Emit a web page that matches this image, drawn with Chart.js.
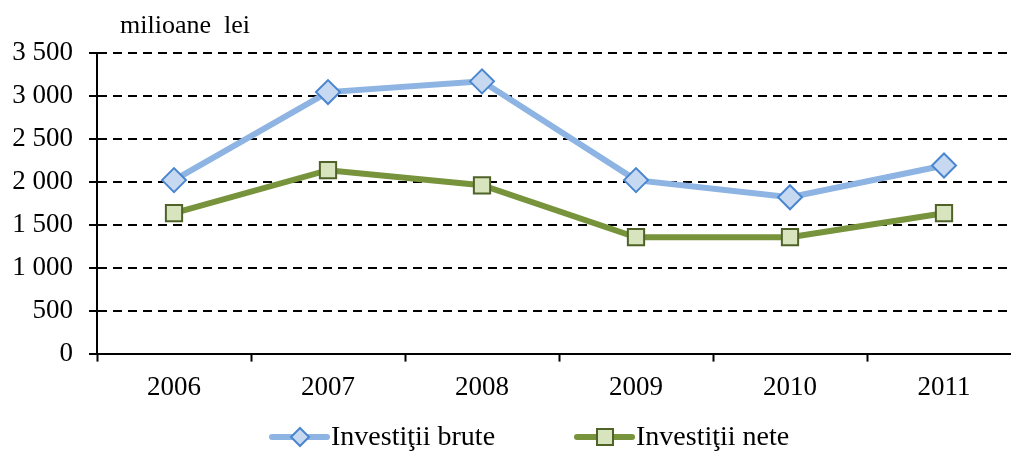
<!DOCTYPE html>
<html>
<head>
<meta charset="utf-8">
<script src="https://cdn.jsdelivr.net/npm/chart.js@4/dist/chart.umd.min.js"></script>
<style>
  html, body { margin: 0; padding: 0; background: #fff; overflow: hidden; }
  #wrap { width: 1035px; height: 453px; }
</style>
</head>
<body>
<div id="wrap"><canvas id="c"></canvas></div>
<script>
const years = ['2006', '2007', '2008', '2009', '2010', '2011'];
const brute = [2020, 3045, 3170, 2020, 1820, 2190];
const nete = [1635, 2135, 1960, 1355, 1355, 1635];
const unitLabel = 'milioane  lei';
const seriesNames = ['Investiţii brute', 'Investiţii nete'];

const FONT = '"Liberation Serif", "Times New Roman", serif';

function fmt(v) {
  return String(v).replace(/\B(?=(\d{3})+(?!\d))/g, ' ');
}

// unit label at top, line+marker legend at bottom
const extras = {
  id: 'extras',
  afterDraw(chart) {
    const ctx = chart.ctx;
    const a = chart.chartArea;
    ctx.save();
    ctx.fillStyle = '#000';
    ctx.font = '26px ' + FONT;
    ctx.textBaseline = 'middle';
    ctx.textAlign = 'left';
    ctx.fillText(unitLabel, a.left + 23, 26);

    ctx.font = '28px ' + FONT;
    const y = 437;
    let x = 272;
    chart.data.datasets.forEach((ds) => {
      const cx = x + 28;
      ctx.strokeStyle = ds.borderColor;
      ctx.lineWidth = ds.borderWidth;
      ctx.lineCap = 'round';
      ctx.beginPath();
      ctx.moveTo(x, y);
      ctx.lineTo(x + 55, y);
      ctx.stroke();
      ctx.fillStyle = ds.pointBackgroundColor;
      ctx.strokeStyle = ds.pointBorderColor;
      ctx.lineWidth = 2;
      ctx.beginPath();
      if (ds.pointStyle === 'rect') {
        ctx.rect(cx - 8, y - 8, 16, 16);
      } else {
        ctx.moveTo(cx, y - 9);
        ctx.lineTo(cx + 9, y);
        ctx.lineTo(cx, y + 9);
        ctx.lineTo(cx - 9, y);
        ctx.closePath();
      }
      ctx.fill();
      ctx.stroke();
      ctx.fillStyle = '#000';
      ctx.fillText(ds.label, x + 59, y + 1);
      x += 305;
    });
    ctx.restore();
  }
};

new Chart(document.getElementById('c'), {
  type: 'line',
  data: {
    labels: years,
    datasets: [
      {
        label: seriesNames[0],
        data: brute,
        borderColor: '#8DB4E2',
        borderWidth: 6,
        pointStyle: 'rectRot',
        pointRadius: 12,
        pointHoverRadius: 12,
        pointBackgroundColor: '#C6D9F1',
        pointBorderColor: '#4A86D0',
        pointBorderWidth: 2,
        tension: 0
      },
      {
        label: seriesNames[1],
        data: nete,
        borderColor: '#77933C',
        borderWidth: 6,
        pointStyle: 'rect',
        pointRadius: 11.5,
        pointHoverRadius: 11.5,
        pointBackgroundColor: '#D7E4BD',
        pointBorderColor: '#4F6228',
        pointBorderWidth: 2,
        tension: 0
      }
    ]
  },
  options: {
    responsive: true,
    maintainAspectRatio: false,
    animation: false,
    layout: { padding: { top: 53, right: 3, bottom: 39, left: 0 } },
    plugins: {
      legend: { display: false },
      tooltip: { enabled: false }
    },
    scales: {
      x: {
        offset: true,
        grid: {
          offset: true,
          drawOnChartArea: false,
          drawTicks: true,
          tickLength: 8,
          tickWidth: 2,
          tickColor: '#000'
        },
        border: { display: true, color: '#000', width: 2 },
        ticks: {
          color: '#000',
          padding: 10,
          font: { family: FONT, size: 27 }
        }
      },
      y: {
        min: 0,
        max: 3500,
        afterFit(scale) { scale.width = 97; },
        grid: {
          color: '#000',
          lineWidth: 2,
          tickLength: 8,
          tickColor: '#000',
          tickBorderDash: []
        },
        border: { display: true, color: '#000', width: 2, dash: [9, 6] },
        ticks: {
          stepSize: 500,
          color: '#000',
          padding: 16,
          font: { family: FONT, size: 27 },
          callback: v => fmt(v)
        }
      }
    }
  },
  plugins: [extras]
});
</script>
</body>
</html>
